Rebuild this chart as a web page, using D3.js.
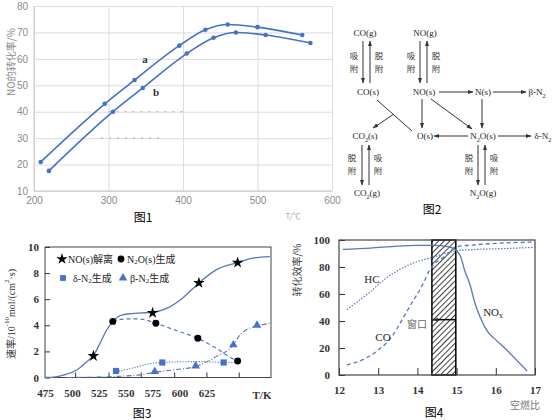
<!DOCTYPE html>
<html><head><meta charset="utf-8">
<script src="https://cdn.jsdelivr.net/npm/d3@7"></script>
<style>body{margin:0;background:#fff}svg{display:block}</style>
</head><body>
<script>
// ---------- DATA ----------
// Figure 1
const fig1XTicks = [200, 300, 400, 500, 600];
const fig1YTicks = [10, 20, 30, 40, 50, 60, 70, 80];
const seriesA_T = [209, 295, 335, 395, 430, 460, 500, 560];
const seriesA_V = [21, 43, 52, 65, 71, 73, 72, 69];
const seriesB_T = [220, 306, 346, 405, 441, 471, 511, 571];
const seriesB_V = [17.6, 40, 49, 62, 68, 70, 69, 66];
const noiseT = [[300, 405], [290, 375]];
const noiseV = [40, 30];

// Figure 3
const fig3XLabels = [475, 500, 525, 550, 575, 600, 625];
const fig3XTickMarks = [503, 534, 564, 595, 625, 655];
const fig3YTicks = [0, 2, 4, 6, 8, 10];
const noCurveT = [475, 485, 493, 504, 513, 520, 526, 532, 538, 545, 555, 565, 575, 588, 603, 618, 634, 654, 668, 684];
const noCurveV = [0, 0.05, 0.2, 0.55, 1.15, 1.7, 2.6, 3.6, 4.3, 4.75, 4.9, 4.95, 5.0, 5.3, 6.1, 7.25, 8.25, 8.8, 9.15, 9.27];
const n2oCurveT = [538, 545, 555, 566, 578, 597, 617, 634, 647, 654];
const n2oCurveV = [4.3, 4.45, 4.5, 4.45, 4.15, 3.6, 3.0, 2.25, 1.55, 1.27];
const deltaCurveT = [541, 550, 560, 572, 584, 600, 620, 641, 652];
const deltaCurveV = [0.45, 0.6, 0.8, 1.05, 1.15, 1.2, 1.22, 1.15, 1.15];
const betaCurveT = [495, 520, 545, 563, 577, 596, 615, 634, 650, 656, 662, 672, 684];
const betaCurveV = [0, 0.03, 0.1, 0.2, 0.4, 0.6, 0.85, 1.6, 2.5, 3.25, 3.65, 3.95, 4.15];
const starT = [520, 575, 618, 654], starV = [1.65, 4.95, 7.25, 8.8];
const circleT = [538, 578, 617, 654], circleV = [4.3, 4.15, 3.0, 1.27];
const squareT = [541, 584, 641], squareV = [0.5, 1.15, 1.15];
const triT = [577, 615, 650, 672], triV = [0.45, 0.88, 2.5, 4.0];

// Figure 4
const fig4XTicks = [12, 13, 14, 15, 16, 17];
const fig4YTicks = [0, 20, 40, 60, 80, 100];
const noxX = [12.1, 12.8, 13.5, 14.0, 14.4, 14.8, 15.0, 15.1, 15.2, 15.34, 15.47, 15.6, 15.77, 16.0, 16.28, 16.53, 16.8];
const noxV = [93, 94, 95.5, 96, 96, 95, 92, 88, 78, 67, 53, 43, 33, 26, 18.5, 11, 3];
const hcX = [12.2, 12.75, 13.17, 13.6, 14.0, 14.37, 14.7, 15.0, 15.5, 16.0, 17.0];
const hcV = [48.5, 60.5, 71, 79, 84, 87, 90, 92, 93, 93.5, 94.5];
const coX = [12.2, 12.58, 13.0, 13.34, 13.6, 13.85, 14.1, 14.32, 14.75, 15.0, 15.5, 16, 17];
const coV = [7.5, 11, 18.5, 28, 40.5, 53, 65, 78, 89, 95, 96.5, 97.5, 98.5];
const windowRange = [14.37, 14.98];
const windowArrowY = 41;

// ---------- SETUP ----------
const W = 556, H = 420;
const SERIF = "'Liberation Serif','Times New Roman',serif";
const CJK = "'Noto Sans CJK SC','Noto Sans',sans-serif";
const MIX = "'Liberation Serif','Noto Sans CJK SC',serif";
const BLUE = "#4472c4";
const LBLUE = "#5577bb";

const svg = d3.select("body").append("svg").attr("width", W).attr("height", H);
svg.append("rect").attr("width", W).attr("height", H).attr("fill", "#fff");
const defs = svg.append("defs");
defs.append("marker").attr("id", "ah").attr("viewBox", "0 0 10 10").attr("refX", 9).attr("refY", 5)
  .attr("markerWidth", 6).attr("markerHeight", 6).attr("orient", "auto-start-reverse")
  .attr("markerUnits", "userSpaceOnUse")
  .append("path").attr("d", "M0,1.5 L10,5 L0,8.5 Z").attr("fill", "#333");

function rich(textSel, str, fs) {
  const parts = str.split(/([_^]\{[^}]*\})/);
  let cur = 0;
  parts.forEach(p => {
    if (!p) return;
    const m = p.match(/^([_^])\{([^}]*)\}$/);
    if (m) {
      const off = m[1] === "_" ? fs * 0.3 : -fs * 0.4;
      textSel.append("tspan").attr("dy", off - cur).attr("font-size", fs * 0.7).text(m[2]);
      cur = off;
    } else {
      textSel.append("tspan").attr("dy", -cur).text(p);
      cur = 0;
    }
  });
  return textSel;
}
function label(g, x, y, str, opt = {}) {
  const fs = opt.fs || 10;
  const t = g.append("text").attr("x", x).attr("y", y)
    .attr("font-family", opt.ff || SERIF).attr("font-size", fs)
    .attr("fill", opt.fill || "#111").attr("text-anchor", opt.anchor || "middle")
    .attr("dominant-baseline", "central");
  if (opt.weight) t.attr("font-weight", opt.weight);
  if (opt.rotate) t.attr("transform", `rotate(${opt.rotate},${x},${y})`);
  return rich(t, str, fs);
}
const zip = (a, b) => a.map((v, i) => [v, b[i]]);

// ---------- FIGURE 1 ----------
{
  const g = svg.append("g");
  const x = d3.scaleLinear().domain([200, 600]).range([34, 332]);
  const y = d3.scaleLinear().domain([10, 80]).range([191, 6]);
  const ya = g.append("g").attr("transform", "translate(34,0)")
    .call(d3.axisLeft(y).tickValues(fig1YTicks).tickSize(-298).tickPadding(6));
  ya.select(".domain").remove();
  ya.selectAll("line").attr("stroke", "#dcdcdc");
  ya.selectAll("text").attr("fill", "#8a8a8a").attr("font-size", 10).attr("font-family", "'Liberation Sans',Arial,sans-serif");
  const xa = g.append("g").attr("transform", "translate(0,191)")
    .call(d3.axisBottom(x).tickValues(fig1XTicks).tickSize(-185).tickPadding(6));
  xa.select(".domain").remove();
  xa.selectAll("line").attr("stroke", "#dcdcdc");
  xa.selectAll("text").attr("fill", "#8a8a8a").attr("font-size", 10).attr("font-family", "'Liberation Sans',Arial,sans-serif");
  g.append("line").attr("x1", 34).attr("x2", 34).attr("y1", 6).attr("y2", 191).attr("stroke", "#c8c8c8");
  g.append("line").attr("x1", 34).attr("x2", 332).attr("y1", 191).attr("y2", 191).attr("stroke", "#c8c8c8");
  noiseT.forEach((r, i) => {
    g.append("line").attr("x1", x(r[0])).attr("x2", x(r[1])).attr("y1", y(noiseV[i])).attr("y2", y(noiseV[i]))
      .attr("stroke", "#aaa").attr("stroke-width", 1).attr("stroke-dasharray", "2,6");
  });
  const line = d3.line().x(d => x(d[0])).y(d => y(d[1])).curve(d3.curveMonotoneX);
  [[seriesA_T, seriesA_V], [seriesB_T, seriesB_V]].forEach(([T, V]) => {
    const pts = zip(T, V);
    g.append("path").attr("d", line(pts)).attr("fill", "none").attr("stroke", BLUE).attr("stroke-width", 1.6);
    g.selectAll(null).data(pts).enter().append("circle")
      .attr("cx", d => x(d[0])).attr("cy", d => y(d[1])).attr("r", 2.3).attr("fill", BLUE);
  });
  label(g, 145, 59, "a", { fs: 11, weight: "bold", fill: "#333" });
  label(g, 156, 92, "b", { fs: 11, weight: "bold", fill: "#333" });
  label(g, 10, 62, "NO的转化率/%", { fs: 10, ff: CJK, fill: "#8a8a8a", rotate: -90 });
  label(g, 293, 215, "T/℃", { fs: 8, ff: CJK, fill: "#aaa" });
  label(g, 143, 216, "图1", { fs: 12, ff: CJK, fill: "#000" });
}

// ---------- FIGURE 2 ----------
{
  const g = svg.append("g");
  const fs = 9;
  const nodes = [
    [365, 33, "CO(g)"], [425, 33, "NO(g)"],
    [368, 92, "CO(s)"], [424, 92, "NO(s)"], [483, 92, "N(s)"], [537, 92, "β-N_{2}"],
    [365, 136, "CO_{2}(s)"], [425, 136, "O(s)"], [483, 136, "N_{2}O(s)"], [543, 136, "δ-N_{2}"],
    [367, 193, "CO_{2}(g)"], [483, 193, "N_{2}O(g)"]
  ];
  nodes.forEach(n => label(g, n[0], n[1], n[2], { fs: fs, fill: "#222" }));
  const arrow = (x1, y1, x2, y2, head = true) => {
    const l = g.append("line").attr("x1", x1).attr("y1", y1).attr("x2", x2).attr("y2", y2)
      .attr("stroke", "#333").attr("stroke-width", 1);
    if (head) l.attr("marker-end", "url(#ah)");
  };
  arrow(363, 41, 363, 83); arrow(370, 83, 370, 41);
  arrow(420, 41, 420, 83); arrow(427, 83, 427, 41);
  arrow(362, 145, 362, 185); arrow(369, 185, 369, 145);
  arrow(478, 145, 478, 185); arrow(485, 185, 485, 145);
  const cj = (x, y, s) => label(g, x, y, s, { fs: 8.5, ff: CJK, fill: "#333" });
  cj(354, 55, "吸"); cj(354, 68, "附"); cj(379, 55, "脱"); cj(379, 68, "附");
  cj(411, 55, "吸"); cj(411, 68, "附"); cj(436, 55, "脱"); cj(436, 68, "附");
  cj(352, 157, "脱"); cj(352, 170, "附"); cj(378, 157, "吸"); cj(378, 170, "附");
  cj(469, 157, "脱"); cj(469, 170, "附"); cj(494, 157, "吸"); cj(494, 170, "附");
  arrow(439, 92, 473, 92);
  arrow(493, 92, 526, 92);
  arrow(468, 136, 434, 136);
  arrow(498, 136, 531, 136);
  arrow(422, 99, 422, 128);
  arrow(482, 99, 482, 128);
  arrow(431, 99, 472, 129);
  arrow(377, 100, 412, 131, false);
  arrow(394, 114, 373, 128);
  label(g, 432, 208, "图2", { fs: 12, ff: CJK, fill: "#000" });
}

// ---------- FIGURE 3 ----------
{
  const g = svg.append("g");
  const x = d3.scaleLinear().domain([475, 685]).range([45, 271]);
  const y = d3.scaleLinear().domain([0, 10]).range([377.5, 247]);
  const ya = g.append("g").attr("transform", "translate(45,0)")
    .call(d3.axisLeft(y).tickValues(fig3YTicks).tickSize(-5).tickPadding(6));
  ya.select(".domain").remove();
  ya.selectAll("line").attr("stroke", "#333");
  ya.selectAll("text").attr("font-family", SERIF).attr("font-weight", "bold").attr("font-size", 11).attr("fill", "#333");
  const xl = g.append("g").attr("transform", "translate(0,377.5)")
    .call(d3.axisBottom(x).tickValues(fig3XLabels).tickSize(0).tickPadding(12));
  xl.select(".domain").remove();
  xl.selectAll("text").attr("font-family", SERIF).attr("font-weight", "bold").attr("font-size", 11).attr("fill", "#333");
  const xt = g.append("g").attr("transform", "translate(0,377.5)")
    .call(d3.axisBottom(x).tickValues(fig3XTickMarks).tickSize(-5).tickFormat(""));
  xt.select(".domain").remove();
  xt.selectAll("line").attr("stroke", "#333");
  g.append("rect").attr("x", 45).attr("y", 247).attr("width", 226).attr("height", 130.5)
    .attr("fill", "none").attr("stroke", "#444").attr("stroke-width", 1);
  label(g, 262, 395, "T/K", { fs: 11, weight: "bold", fill: "#333" });
  const line = d3.line().x(d => x(d[0])).y(d => y(d[1])).curve(d3.curveMonotoneX);
  const curve = (T, V, dash, w) => g.append("path").attr("d", line(zip(T, V))).attr("fill", "none")
    .attr("stroke", LBLUE).attr("stroke-width", w || 1.2).attr("stroke-dasharray", dash);
  curve(noCurveT, noCurveV, null, 1.3);
  curve(n2oCurveT, n2oCurveV, "4,3", 1.2);
  curve(deltaCurveT, deltaCurveV, "1.2,1.5", 1.1);
  curve(betaCurveT, betaCurveV, "5,2,1,2", 1.1);
  const sym = (T, V, type, size, fill) => g.selectAll(null).data(zip(T, V)).enter().append("path")
    .attr("d", d3.symbol().type(type).size(size)).attr("fill", fill)
    .attr("transform", d => `translate(${x(d[0])},${y(d[1])})`);
  sym(starT, starV, d3.symbolStar, 42, "#000");
  sym(circleT, circleV, d3.symbolCircle, 38, "#000");
  sym(squareT, squareV, d3.symbolSquare, 38, BLUE);
  sym(triT, triV, d3.symbolTriangle, 32, BLUE);
  const lsym = (px, py, type, size, fill) => g.append("path").attr("d", d3.symbol().type(type).size(size)())
    .attr("fill", fill).attr("transform", `translate(${px},${py})`);
  lsym(62, 259, d3.symbolStar, 40, "#000");
  label(g, 68, 259, "NO(s)解离", { fs: 10, ff: MIX, anchor: "start", fill: "#222" });
  lsym(121, 259, d3.symbolCircle, 36, "#000");
  label(g, 127, 259, "N_{2}O(s)生成", { fs: 10, ff: MIX, anchor: "start", fill: "#222" });
  lsym(63, 278, d3.symbolSquare, 34, BLUE);
  label(g, 73, 278, "δ-N_{2}生成", { fs: 10, ff: MIX, anchor: "start", fill: "#222" });
  lsym(123, 278, d3.symbolTriangle, 32, BLUE);
  label(g, 130, 278, "β-N_{2}生成", { fs: 10, ff: MIX, anchor: "start", fill: "#222" });
  label(g, 11, 314, "速率/10^{-10}mol/(cm^{2}·s)", { fs: 10, ff: MIX, fill: "#333", rotate: -90 });
  label(g, 142, 412, "图3", { fs: 12, ff: CJK, fill: "#000" });
}

// ---------- FIGURE 4 ----------
{
  const g = svg.append("g");
  const x = d3.scaleLinear().domain([12, 17]).range([339, 535]);
  const y = d3.scaleLinear().domain([0, 100]).range([375, 240]);
  const pat = defs.append("pattern").attr("id", "hatch").attr("patternUnits", "userSpaceOnUse")
    .attr("width", 4).attr("height", 4).attr("patternTransform", "rotate(45)");
  pat.append("rect").attr("width", 4).attr("height", 4).attr("fill", "#fff");
  pat.append("line").attr("x1", 0).attr("y1", 0).attr("x2", 0).attr("y2", 4).attr("stroke", "#111").attr("stroke-width", 1.6);
  g.append("rect").attr("x", x(windowRange[0])).attr("y", 240)
    .attr("width", x(windowRange[1]) - x(windowRange[0])).attr("height", 135)
    .attr("fill", "url(#hatch)").attr("stroke", "#000").attr("stroke-width", 1.5);
  const ya = g.append("g").attr("transform", "translate(339,0)")
    .call(d3.axisLeft(y).tickValues(fig4YTicks).tickSize(-6).tickPadding(9).tickFormat(d3.format("d")));
  ya.select(".domain").remove();
  ya.selectAll("line").attr("stroke", "#333");
  ya.selectAll("text").attr("font-family", SERIF).attr("font-weight", "bold").attr("font-size", 11).attr("fill", "#333");
  const xa = g.append("g").attr("transform", "translate(0,375)")
    .call(d3.axisBottom(x).tickValues(fig4XTicks).tickSize(-7).tickPadding(11).tickFormat(d3.format("d")));
  xa.select(".domain").remove();
  xa.selectAll("line").attr("stroke", "#333");
  xa.selectAll("text").attr("font-family", SERIF).attr("font-weight", "bold").attr("font-size", 11).attr("fill", "#333");
  g.append("rect").attr("x", 339).attr("y", 240).attr("width", 196).attr("height", 135)
    .attr("fill", "none").attr("stroke", "#444").attr("stroke-width", 1.2);
  const line = d3.line().x(d => x(d[0])).y(d => y(d[1])).curve(d3.curveMonotoneX);
  const curve = (X, V, dash, w) => g.append("path").attr("d", line(zip(X, V))).attr("fill", "none")
    .attr("stroke", LBLUE).attr("stroke-width", w).attr("stroke-dasharray", dash);
  curve(noxX, noxV, null, 1.3);
  curve(hcX, hcV, "1.5,1.5", 1.2);
  curve(coX, coV, "4,3", 1.3);
  g.append("line").attr("x1", x(windowRange[1])).attr("x2", x(windowRange[0]) + 1)
    .attr("y1", y(windowArrowY)).attr("y2", y(windowArrowY))
    .attr("stroke", "#000").attr("stroke-width", 1.5).attr("marker-end", "url(#ah)");
  label(g, 417, 323, "窗口", { fs: 10, ff: CJK, fill: "#666" });
  label(g, 372, 279, "HC", { fs: 11, fill: "#222" });
  label(g, 383, 337, "CO", { fs: 11, fill: "#222" });
  label(g, 493, 312, "NO_{x}", { fs: 11, fill: "#222" });
  label(g, 296, 270, "转化效率/%", { fs: 10, ff: CJK, fill: "#444", rotate: -90 });
  label(g, 525, 404, "空燃比", { fs: 10, ff: CJK, fill: "#777" });
  label(g, 434, 411, "图4", { fs: 12, ff: CJK, fill: "#000" });
}
</script>
</body></html>
